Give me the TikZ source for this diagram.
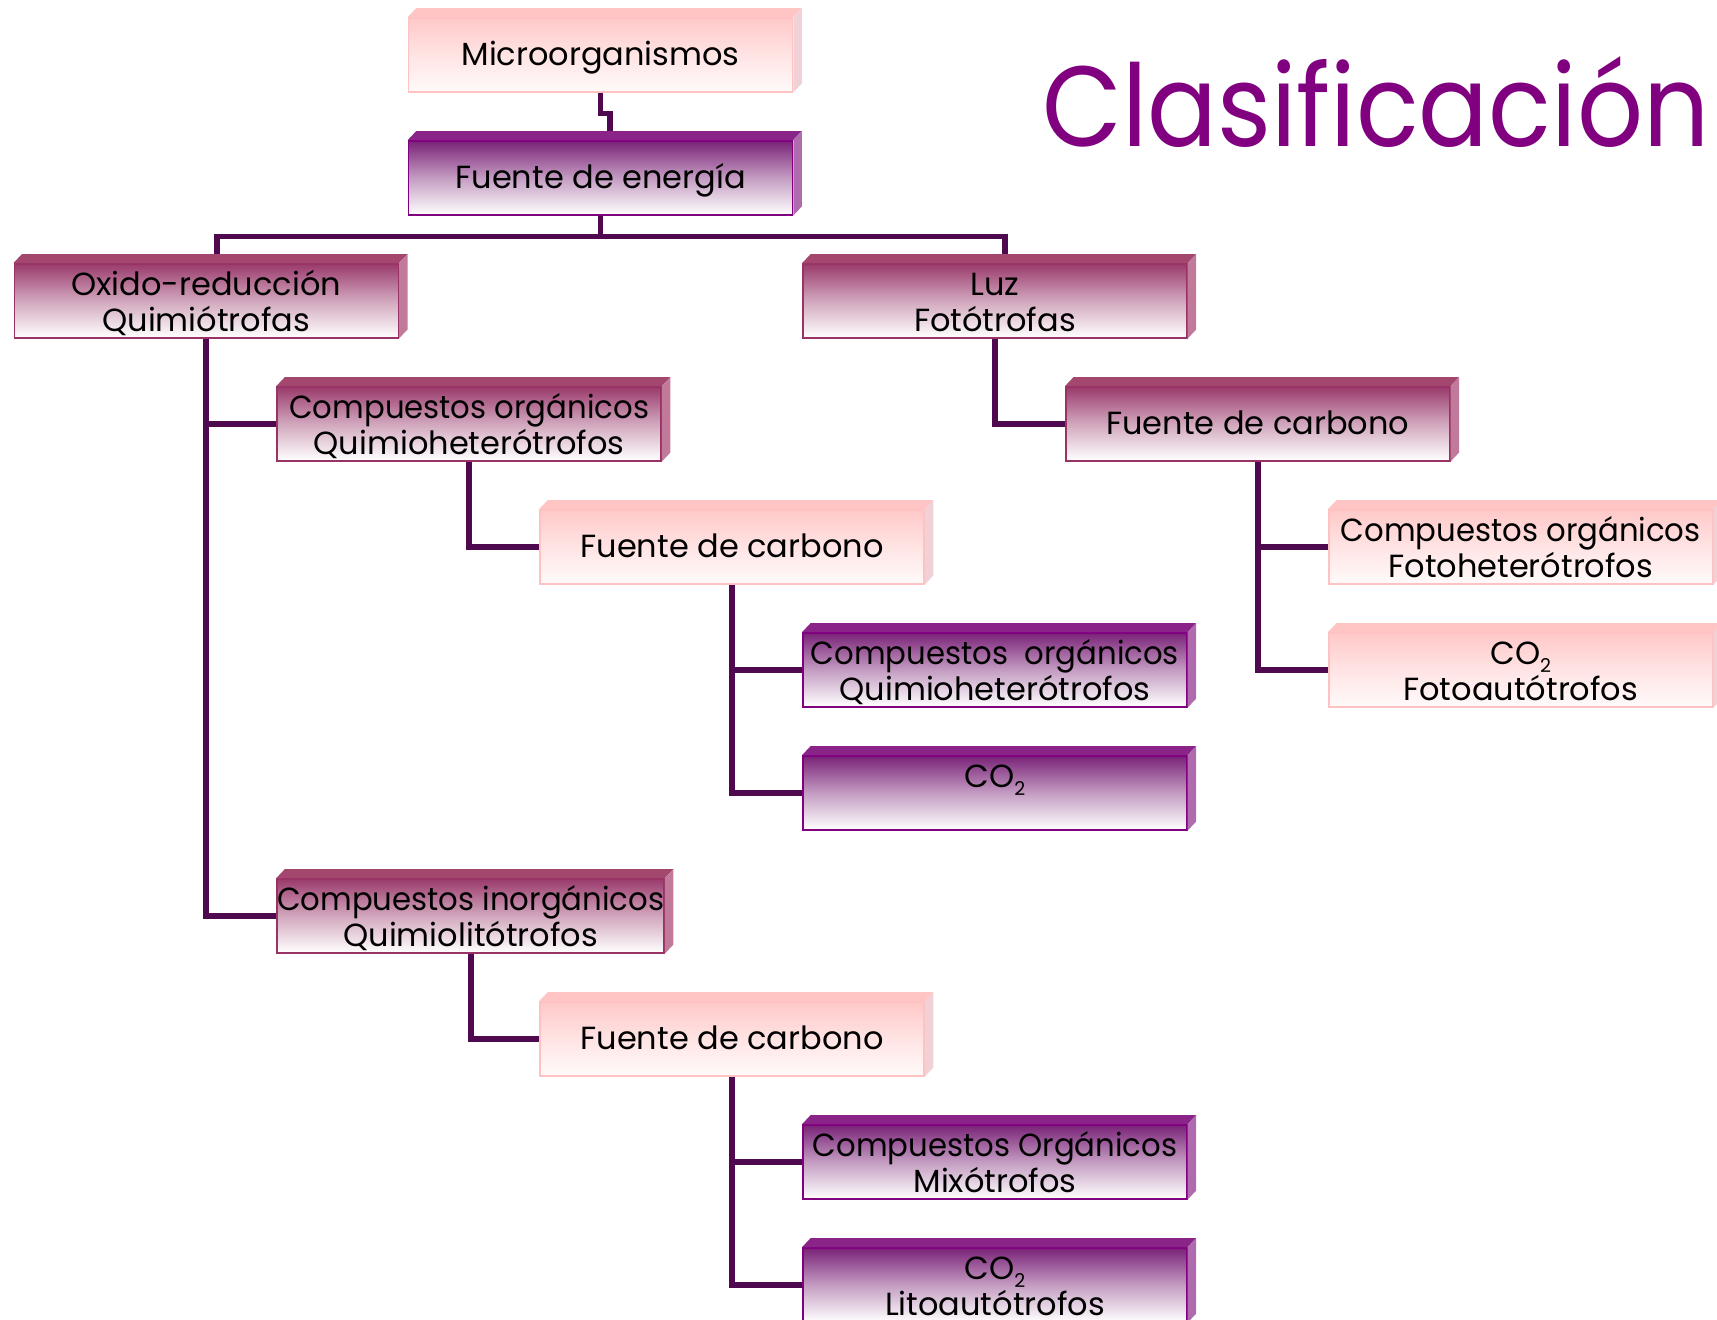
\documentclass[tikz,border=0pt]{standalone}
\usepackage{fontspec}
\usepackage{graphicx}
\setmainfont{Poppins}
\usetikzlibrary{calc}

% palette
\definecolor{connc}{HTML}{4F0A4F}
\definecolor{lighttop}{HTML}{FFC8C8}
\definecolor{lightbot}{HTML}{FFFAFA}
\definecolor{lightline}{HTML}{FFC2C2}
\definecolor{lightface}{HTML}{FFC4C4}
\definecolor{lightside}{HTML}{F0D2D6}
\definecolor{mauvetop}{HTML}{9A3A6C}
\definecolor{mauveline}{HTML}{993366}
\definecolor{mauveface}{HTML}{A3476F}
\definecolor{mauveside}{HTML}{C27A9A}
\definecolor{purpletop}{HTML}{7A2277}
\definecolor{purpleline}{HTML}{800080}
\definecolor{purpleface}{HTML}{8A2489}
\definecolor{purpleside}{HTML}{B06AAE}
\definecolor{titlec}{HTML}{800080}

\newcommand\boxfont{\fontsize{32}{35}\selectfont}
\newcommand\two[2]{\begin{tabular}[t]{@{}c@{}}#1\\#2\end{tabular}}
% slightly condensed line for the long labels
\newcommand\cond[1]{\scalebox{0.96}[1]{#1}}
% carbon dioxide with a text-font subscript
\newcommand\cotext{CO\raisebox{-8pt}{\fontsize{19}{19}\selectfont 2}}

% top and right faces of a box node
\newcommand\solid[3]{%
  \fill[#2] (#1.north west) -- ++(8.5,-9) -- ($(#1.north east)+(8.5,-9)$) -- (#1.north east) -- cycle;
  \fill[#3] (#1.north east) -- ++(8.5,-9) -- ($(#1.south east)+(8.5,-9)$) -- (#1.south east) -- cycle;
}

\tikzset{
  conn/.style={draw=connc, line width=5.7pt},
  box/.style={rectangle, anchor=north west, minimum width=384pt, minimum height=74pt,
    inner sep=0pt, line width=1.5pt, text=black, font=\boxfont,
    text height=32pt, text depth=42pt},
  oneline/.style={text height=48pt, text depth=26pt},
  lightbox/.style={box, draw=lightline, top color=lighttop, bottom color=lightbot,
    middle color=lighttop!50!white},
  mauvebox/.style={box, draw=mauveline, top color=mauvetop, bottom color=white,
    middle color=mauvetop!45!white},
  purplebox/.style={box, draw=purpleline, top color=purpletop, bottom color=white,
    middle color=purpletop!45!white},
  title/.style={text=titlec, font=\fontsize{114}{120}\selectfont, inner sep=0pt},
}

\begin{document}
\begin{tikzpicture}[x=1pt, y=-1pt]
\useasboundingbox (0,0) rectangle (1717,1320);

% boxes
\node[lightbox, oneline]  (micro)  at (407.8,17)   {Microorganismos};
\node[purplebox, oneline] (energy) at (407.8,140)  {Fuente de energía};
\node[mauvebox]  (oxido) at (13.5,263)   {\two{Oxido-reducción}{Quimiótrofas}};
\node[mauvebox]  (luz)   at (802.2,263)  {\two{Luz}{Fotótrofas}};
\node[mauvebox]  (qhet)  at (276.4,386)  {\two{\cond{Compuestos orgánicos}}{Quimioheterótrofos}};
\node[mauvebox, oneline] (fcR) at (1065.1,386) {Fuente de carbono};
\node[lightbox, oneline] (fcLa) at (539.3,509) {Fuente de carbono};
\node[lightbox]  (fhet)  at (1328,509)   {\two{\cond{Compuestos orgánicos}}{Fotoheterótrofos}};
\node[purplebox] (qhetb) at (802.2,632)  {\two{\cond{Compuestos\ \ orgánicos}}{Quimioheterótrofos}};
\node[lightbox]  (faut)  at (1328,632)   {\two{\cotext}{Fotoautótrofos}};
\node[purplebox] (cotwo) at (802.2,755)  {\cotext};
\node[mauvebox]  (inorg) at (276.4,878)  {\two{\cond{Compuestos inorgánicos}}{Quimiolitótrofos}};
\node[lightbox, oneline] (fcLb) at (539.3,1001) {Fuente de carbono};
\node[purplebox] (mixo)  at (802.2,1124) {\two{\cond{Compuestos Orgánicos}}{Mixótrofos}};
\node[purplebox] (lito)  at (802.2,1247) {\two{\cotext}{Litoautótrofos}};

% depth faces
\solid{micro}{lightface}{lightside}
\solid{fcLa}{lightface}{lightside}
\solid{fcLb}{lightface}{lightside}
\solid{fhet}{lightface}{lightside}
\solid{faut}{lightface}{lightside}
\solid{oxido}{mauveface}{mauveside}
\solid{luz}{mauveface}{mauveside}
\solid{qhet}{mauveface}{mauveside}
\solid{fcR}{mauveface}{mauveside}
\solid{inorg}{mauveface}{mauveside}
\solid{energy}{purpleface}{purpleside}
\solid{qhetb}{purpleface}{purpleside}
\solid{cotwo}{purpleface}{purpleside}
\solid{mixo}{purpleface}{purpleside}
\solid{lito}{purpleface}{purpleside}

% connectors
\coordinate (jm) at ($(micro.south)+(0,21)$);
\draw[conn] (micro.south) -- (jm) -| ([xshift=9.5pt,yshift=9pt]energy.north);
\coordinate (je) at ($(energy.south)+(0,21)$);
\draw[conn] (energy.south) -- (je);
\draw[conn] ([xshift=10.5pt,yshift=9pt]oxido.north) |- (je) -| ([xshift=10pt,yshift=9pt]luz.north);

\draw[conn] (oxido.south) |- (qhet.west);
\draw[conn] (oxido.south) |- (inorg.west);
\draw[conn] (qhet.south) |- (fcLa.west);
\draw[conn] (fcLa.south) |- (qhetb.west);
\draw[conn] (fcLa.south) |- (cotwo.west);
\draw[conn] (inorg.south) |- (fcLb.west);
\draw[conn] (fcLb.south) |- (mixo.west);
\draw[conn] (fcLb.south) |- (lito.west);
\draw[conn] (luz.south) |- (fcR.west);
\draw[conn] (fcR.south) |- (fhet.west);
\draw[conn] (fcR.south) |- (faut.west);

% heading
\node[title, anchor=base west] (title) at (1042,146) {\scalebox{0.907}[1]{Clasificación}};
\end{tikzpicture}
\end{document}
